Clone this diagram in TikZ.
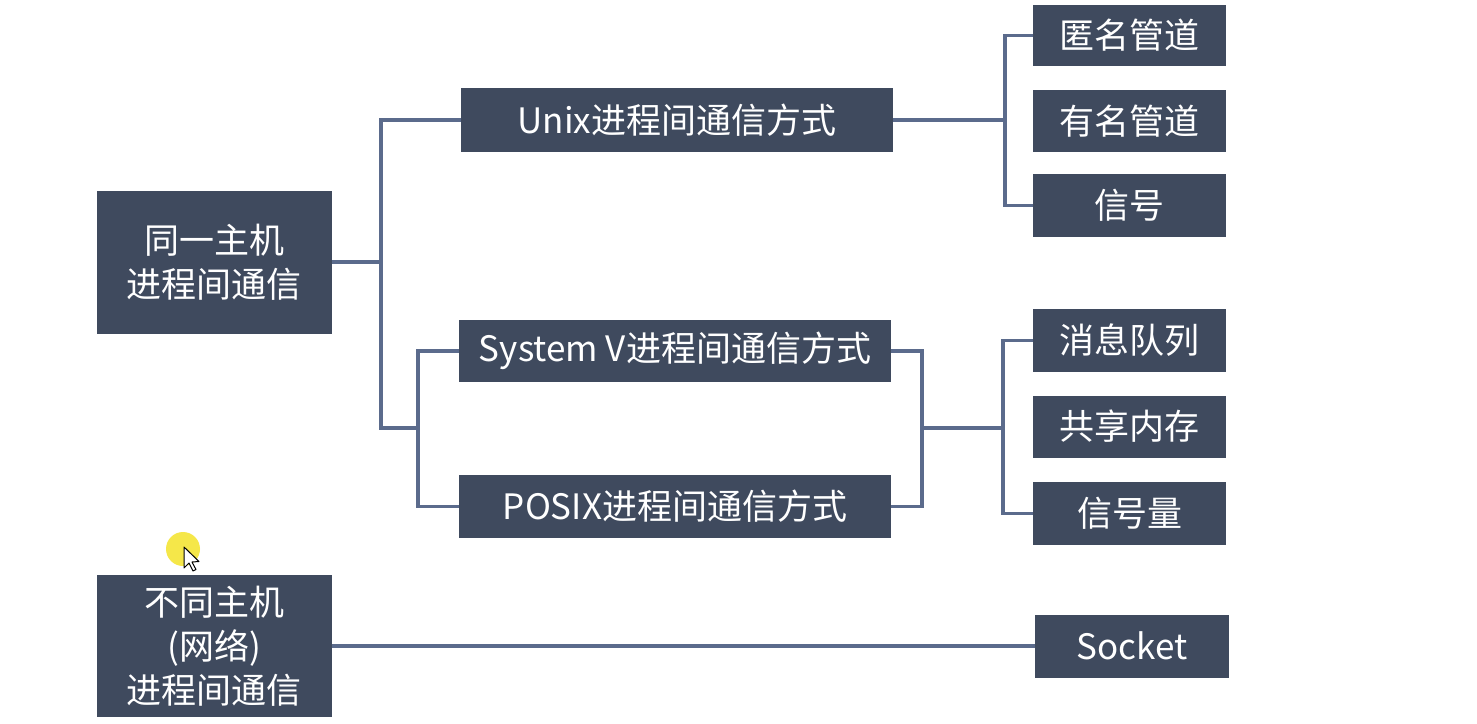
\documentclass[tikz,border=0pt]{standalone}
\usepackage{fontspec}
\setmainfont{Noto Sans CJK SC}
\definecolor{boxc}{HTML}{3F4A5E}
\definecolor{linec}{HTML}{5B6B8C}
\definecolor{hl}{HTML}{F4E32A}
\begin{document}
\begin{tikzpicture}[x=1pt,y=-1pt,
  box/.style={fill=boxc,text=white,inner sep=0pt,align=center,
    font=\fontsize{35}{44}\selectfont},
  conn/.style={draw=linec,line width=3.8pt}]
\useasboundingbox[fill=white] (0,0) rectangle (1477,723);
% boxes
\node[box,minimum width=235,minimum height=143] (A) at (214,262) {同一主机\\进程间通信};
\node[box,minimum width=432,minimum height=64] (unix) at (677,120) {Unix进程间通信方式};
\node[box,minimum width=193,minimum height=61] (l1) at (1129.5,35.5) {匿名管道};
\node[box,minimum width=193,minimum height=62] (l2) at (1129.5,121) {有名管道};
\node[box,minimum width=193,minimum height=63] (l3) at (1129.5,205.5) {信号};
\node[box,minimum width=432,minimum height=62] (sysv) at (675,351) {System V进程间通信方式};
\node[box,minimum width=432,minimum height=63] (posix) at (675,506.5) {POSIX进程间通信方式};
\node[box,minimum width=193,minimum height=63] (m1) at (1129.5,340.5) {消息队列};
\node[box,minimum width=193,minimum height=62] (m2) at (1129.5,426.5) {共享内存};
\node[box,minimum width=193,minimum height=63] (m3) at (1129.5,513.5) {信号量};
\node[box,minimum width=235,minimum height=142] (D) at (214,646) {不同主机\\(网络)\\进程间通信};
\node[box,minimum width=194,minimum height=63] (sock) at (1132,646) {Socket};
% junctions
\coordinate (j1) at (381,262);
\coordinate (j2) at (418,428);
\coordinate (j3) at (922,428);
\coordinate (j4) at (1003,428);
\coordinate (j5) at (1005,120);
% connectors
\draw[conn] (A.east) -- (j1);
\draw[conn] (unix.west) -| (j1);
\draw[conn] (j1) |- (j2);
\draw[conn] (sysv.west) -| (j2);
\draw[conn] (posix.west) -| (j2);
\draw[conn] (sysv.east) -| (j3);
\draw[conn] (posix.east) -| (j3);
\draw[conn] (j3) -- (j4);
\draw[conn] (m1.west) -| (j4);
\draw[conn] (m3.west) -| (j4);
\draw[conn] (unix.east) -- (j5);
\draw[conn] (l1.west) -| (j5);
\draw[conn] (l3.west) -| (j5);
\draw[conn] (D.east) -- (sock.west);
% cursor highlight
\fill[hl,opacity=0.85] (183,549) circle (17);
\draw[fill=white,line width=1pt,line join=round] (184,547) -- (184,568) -- (189,563) -- (193,571) -- (196,569.5) -- (192,562) -- (199,561.5) -- cycle;
\end{tikzpicture}
\end{document}
